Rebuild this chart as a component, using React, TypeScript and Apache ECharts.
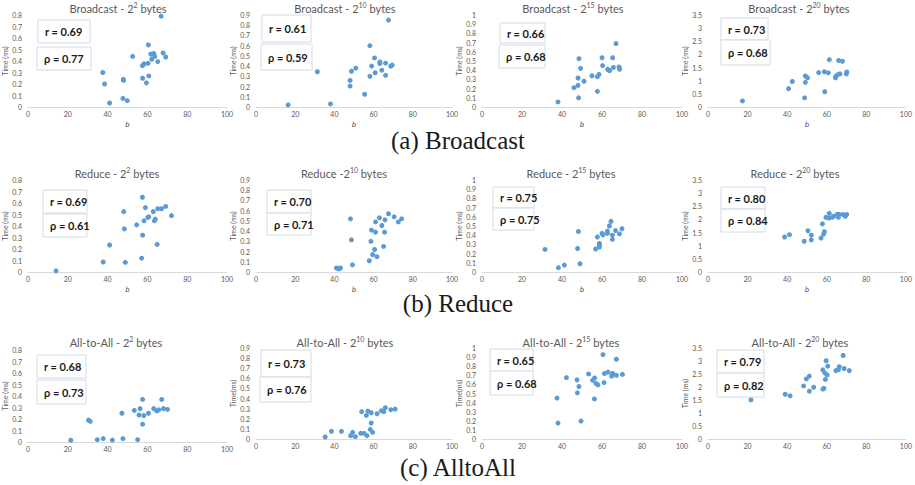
import React, { useEffect, useRef } from 'react';
import * as echarts from 'echarts';

// ---------- data ----------
const bc2 = [[66.9,0.79],[60.5,0.54],[52.6,0.44],[61.7,0.46],[63.2,0.465],[63.7,0.44],[62.2,0.415],[67.9,0.47],[69.2,0.435],[65.2,0.395],[60.3,0.38],[58.3,0.375],[57.5,0.36],[37.6,0.30],[38.5,0.20],[57.6,0.25],[60.7,0.27],[47.9,0.24],[48,0.232],[59.5,0.21],[41,0.035],[47.7,0.075],[49.9,0.055]];
const bc10 = [[67.6,0.85],[58.1,0.60],[60.5,0.48],[63.2,0.44],[63.2,0.425],[66.1,0.43],[69.5,0.41],[68.7,0.40],[59,0.40],[50.9,0.38],[48.7,0.35],[64.2,0.36],[60.8,0.335],[58.1,0.30],[66.1,0.31],[31.3,0.345],[48,0.26],[48,0.205],[55.4,0.125],[16.4,0.02],[38,0.03]];
const bc15 = [[67,0.69],[60,0.535],[65.3,0.535],[48.5,0.525],[60.3,0.45],[49.3,0.42],[65.7,0.43],[68.5,0.435],[68.8,0.41],[62.8,0.41],[63.5,0.40],[63.8,0.395],[55,0.34],[58.5,0.355],[57.7,0.33],[48,0.315],[51,0.28],[48,0.235],[46,0.21],[57.7,0.17],[48.3,0.10],[38,0.055]];
const bc20 = [[61.3,1.80],[66,1.77],[67.9,1.74],[55.9,1.31],[58.8,1.34],[60.8,1.30],[70.1,1.33],[69.9,1.26],[66.7,1.26],[65.5,1.23],[64.5,1.16],[64.4,1.11],[49.2,1.18],[50.3,1.11],[42.6,0.97],[49.2,0.94],[40.7,0.70],[59,0.58],[48.8,0.35],[17.4,0.23]];
const rd2 = [[57.5,0.65],[59,0.56],[65.2,0.55],[67.1,0.55],[69.2,0.57],[48.1,0.525],[62.9,0.525],[60.7,0.48],[60.2,0.475],[72.1,0.49],[64,0.46],[63.5,0.445],[58.3,0.445],[54.6,0.41],[48.4,0.375],[57.6,0.32],[41,0.235],[64.9,0.24],[37.8,0.087],[48.9,0.084],[57.1,0.12],[14.1,0.01]];
const rd10 = [[67.6,0.57],[70.5,0.54],[74.3,0.52],[72.6,0.49],[63,0.53],[65.8,0.51],[61,0.49],[64.2,0.455],[48.2,0.52],[58.9,0.41],[61,0.39],[65.6,0.39],[48.7,0.315],[58.6,0.30],[65.1,0.25],[60.5,0.22],[59.5,0.17],[61.7,0.15],[57.8,0.11],[49.2,0.07],[41,0.04],[41.9,0.035],[43.1,0.04],[42.4,0.03]];
const rd15 = [[64.5,0.55],[63.7,0.50],[70,0.47],[66.8,0.45],[62.7,0.445],[62.7,0.42],[60,0.42],[60.5,0.405],[68.7,0.415],[65.2,0.40],[65.2,0.355],[57.7,0.38],[48.2,0.44],[58.7,0.31],[58.7,0.29],[58.7,0.27],[56.8,0.25],[47.8,0.255],[31.5,0.245],[41.2,0.075],[49,0.09],[38.2,0.047]];
const rd20 = [[61.3,2.23],[63.5,2.12],[65.4,2.20],[66.2,2.19],[68.1,2.19],[69.4,2.12],[70.1,2.19],[65.9,2.08],[62.8,2.08],[61.1,2.05],[59.6,2.08],[57.8,1.83],[58.8,1.53],[58.4,1.44],[57.1,1.29],[52.2,1.22],[50.5,1.57],[52.2,1.40],[48.6,1.17],[41.2,1.42],[38.7,1.33]];
const aa2 = [[57.6,0.37],[67.2,0.37],[56.3,0.29],[53.4,0.275],[63.2,0.29],[64.7,0.27],[65.7,0.28],[68.1,0.29],[70.1,0.283],[60.5,0.25],[47.2,0.25],[55.8,0.235],[58.2,0.23],[57.6,0.155],[30.4,0.19],[31.3,0.18],[21.5,0.015],[34.8,0.02],[37.8,0.03],[42.4,0.017],[47.7,0.03],[55.1,0.02]];
const aa10 = [[66,0.31],[68.8,0.29],[71,0.296],[64,0.28],[65.2,0.27],[53.9,0.27],[57.1,0.276],[58.8,0.26],[61.8,0.25],[56.3,0.233],[58.8,0.158],[58.3,0.095],[59.5,0.066],[38.5,0.076],[43.6,0.076],[49.3,0.066],[48.3,0.033],[50.7,0.023],[53.4,0.056],[55.1,0.056],[56.6,0.033],[35.3,0.02]];
const aa15 = [[60.5,0.927],[67.2,0.876],[53.3,0.715],[61.2,0.72],[63,0.735],[65.3,0.72],[64.8,0.69],[67.2,0.70],[70.2,0.71],[56.3,0.67],[42.2,0.675],[47.5,0.65],[55.3,0.645],[57,0.61],[58,0.595],[61,0.62],[48.5,0.577],[47.7,0.507],[37.5,0.45],[56.2,0.44],[38,0.175],[49.5,0.197]];
const aa20 = [[68.3,3.21],[59.7,3.01],[60.5,2.80],[66.3,2.78],[68.8,2.71],[71.4,2.63],[65.9,2.66],[64.6,2.63],[58,2.66],[59,2.54],[60.2,2.46],[51.2,2.42],[49.7,2.31],[59.3,2.29],[48.3,2.04],[53.4,1.99],[51.2,1.84],[58,1.92],[58.6,1.95],[39,1.72],[41.5,1.66],[21.7,1.51]];

const seriesData = [bc2, bc10, bc15, bc20, rd2, rd10, rd15, rd20, aa2, aa10, aa15, aa20];
const exponents = ['2', '10', '15', '20'];
const titlePrefixes = [
  'Broadcast - 2', 'Broadcast - 2', 'Broadcast - 2', 'Broadcast - 2',
  'Reduce - 2', 'Reduce -2', 'Reduce - 2', 'Reduce - 2',
  'All-to-All - 2', 'All-to-All - 2', 'All-to-All - 2', 'All-to-All - 2',
];
const rValues = ['0.69', '0.61', '0.66', '0.73', '0.69', '0.70', '0.75', '0.80', '0.68', '0.73', '0.65', '0.79'];
const rhoValues = ['0.77', '0.59', '0.68', '0.68', '0.61', '0.71', '0.75', '0.84', '0.73', '0.76', '0.68', '0.82'];
const yMaxes = [0.8, 0.9, 1, 3.5];
const yIntervals = [0.1, 0.1, 0.1, 0.5];
const yNames = [
  'Time (ms)', 'Time (ms)', 'Time (ms)', 'Time (ms)',
  'Time (ms)', 'Time (ms)', 'Time (ms)', 'Time (ms)',
  'Time (ms)', 'Time(ms)', 'Time(ms)', 'Time (ms)',
];
const captions = ['(a) Broadcast', '(b) Reduce', '(c) AlltoAll'];

// ---------- layout ----------
const colX = [[28, 227], [256, 452], [482, 682], [708, 906]];
const rowY = [
  [[15, 107], [15, 107], [15, 107], [15, 107]],
  [[180, 272], [180, 272], [180, 272], [180, 272]],
  [[350, 442], [348, 439], [348, 439], [348, 439]],
];
const titleCenters = [
  [118, 8], [345, 8], [573, 8], [799, 8],
  [117, 173], [344, 173], [571, 173], [795, 173],
  [116, 342], [345, 342], [571, 342], [800, 342],
];
// [x, y, w, h] of r box and rho box
const rBoxes = [
  [38, 20, 52, 23], [262, 15, 49, 27], [500, 23, 45, 20], [721, 18, 47, 22],
  [43, 190, 44, 23], [267, 190, 44, 23], [493, 187, 41, 21], [721, 187, 44, 22],
  [37, 355, 49, 23], [261, 350, 50, 27], [490, 349, 43, 22], [717, 350, 47, 23],
];
const pBoxes = [
  [37, 47, 54, 23], [261, 44, 51, 26], [499, 45, 46, 23], [721, 40, 49, 25],
  [43, 214, 44, 23], [267, 213, 44, 22], [493, 208, 41, 22], [721, 209, 44, 23],
  [37, 380, 49, 24], [260, 377, 51, 25], [490, 371, 43, 24], [717, 373, 47, 24],
];
const captionY = [140, 303, 467];

const FONT = 'Lato, "Open Sans", sans-serif';
const LABEL = '#595959';

export default function App() {
  const ref = useRef<HTMLDivElement>(null);
  useEffect(() => {
    if (!ref.current) return;
    const chart = echarts.init(ref.current, null, { renderer: 'svg' });
    const grids: any[] = [];
    const xAxes: any[] = [];
    const yAxes: any[] = [];
    const series: any[] = [];
    const graphics: any[] = [];
    for (let i = 0; i < 12; i++) {
      const row = Math.floor(i / 4);
      const col = i % 4;
      const [l, r] = colX[col];
      const [t, b] = rowY[row][col];
      grids.push({ left: l, top: t, width: r - l, height: b - t, containLabel: false });
      xAxes.push({
        type: 'value', gridIndex: i, min: 0, max: 100, interval: 20,
        name: row < 2 ? 'b' : '', nameLocation: 'middle', nameGap: 14,
        nameTextStyle: { fontSize: 7, fontStyle: 'italic', color: '#404040', fontFamily: '"DejaVu Serif", serif' },
        axisLine: { show: true, lineStyle: { color: '#d9d9d9', width: 1 } },
        axisTick: { show: false },
        splitLine: { show: false },
        axisLabel: { fontSize: 7, color: LABEL, margin: 3, fontFamily: FONT },
      });
      yAxes.push({
        type: 'value', gridIndex: i, min: 0, max: yMaxes[col], interval: yIntervals[col],
        name: yNames[i], nameLocation: 'middle', nameGap: 17, nameRotate: 90,
        nameTextStyle: { fontSize: 7, color: LABEL, fontFamily: FONT },
        axisLine: { show: false },
        axisTick: { show: false },
        splitLine: { show: false },
        axisLabel: { fontSize: 7, color: LABEL, margin: 6, fontFamily: FONT },
      });
      series.push({
        type: 'scatter', xAxisIndex: i, yAxisIndex: i, data: seriesData[i],
        symbolSize: 5, itemStyle: { color: '#5b9bd5', opacity: 1 },
      });
      const [tx, ty] = titleCenters[i];
      graphics.push({
        type: 'text', x: tx, y: ty, z: 10,
        style: {
          text: `{a|${titlePrefixes[i]}}{s|${exponents[col]}}{a| bytes}`,
          align: 'center', verticalAlign: 'middle',
          rich: {
            a: { fontSize: 11, fontFamily: FONT, fill: LABEL, color: LABEL, lineHeight: 14 },
            s: { fontSize: 7, fontFamily: FONT, fill: LABEL, color: LABEL, verticalAlign: 'top', lineHeight: 14, padding: [0, 0, 6, 0] },
          },
        },
      });
      const boxes = [[rBoxes[i], `r = ${rValues[i]}`], [pBoxes[i], `\u03c1 = ${rhoValues[i]}`]];
      boxes.forEach(([bx, txt]: any) => {
        graphics.push({
          type: 'rect', z: 5,
          shape: { x: bx[0], y: bx[1], width: bx[2], height: bx[3] },
          style: { fill: '#ffffff', stroke: '#d3dce8', lineWidth: 1 },
        });
        graphics.push({
          type: 'text', z: 6, x: bx[0] + 7, y: bx[1] + bx[3] / 2,
          style: {
            text: txt, fill: '#1a1a1a', fontSize: 11, fontWeight: 'bold', fontFamily: FONT,
            align: 'left', verticalAlign: 'middle',
          },
        });
      });
    }
    captions.forEach((c, k) => {
      graphics.push({
        type: 'text', x: 458, y: captionY[k], z: 10,
        style: {
          text: c, fill: '#1a1a1a', fontSize: 25, fontFamily: '"Liberation Serif", "DejaVu Serif", serif',
          align: 'center', verticalAlign: 'middle',
        },
      });
    });
    chart.setOption({
      animation: false,
      backgroundColor: '#ffffff',
      grid: grids,
      xAxis: xAxes,
      yAxis: yAxes,
      series,
      graphic: { elements: graphics },
    });
    return () => chart.dispose();
  }, []);
  return (
    <div
      ref={ref}
      style={{ position: 'absolute', left: 0, top: 0, width: 915, height: 485 }}
    />
  );
}
